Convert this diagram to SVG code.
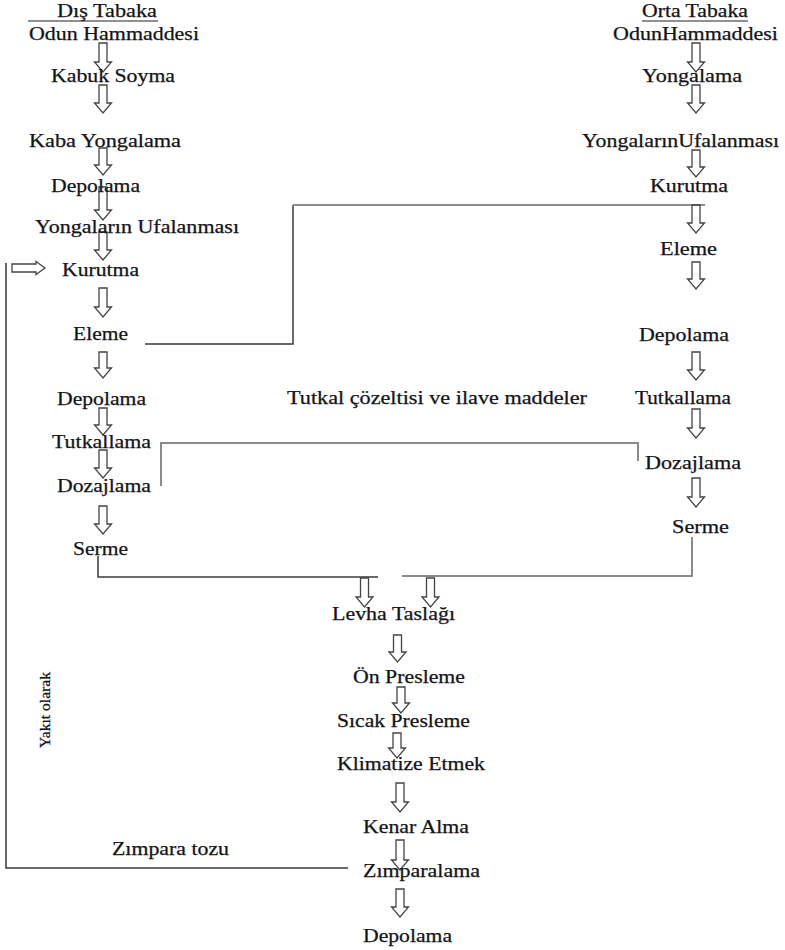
<svg xmlns="http://www.w3.org/2000/svg" width="785" height="950" viewBox="0 0 785 950">
<defs>
<style>
text{font-family:"Liberation Serif","Times New Roman",serif;font-size:18px;fill:#141418;stroke:#141418;stroke-width:0.25}
.a{fill:none;stroke:#444;stroke-width:1.3;stroke-linejoin:miter}
.l{fill:none;stroke:#3a3a3a;stroke-width:1.5}
.g{fill:none;stroke:#8a8a8a;stroke-width:2}
</style>
</defs>
<rect width="785" height="950" fill="#fff"/>
<g id="connectors">
<polyline class="l" points="145,344 293,344 293,205"/>
<polyline class="g" points="293,205 705,205"/>
<polyline class="g" points="161,486 161,443 638,443 638,461"/>
<polyline class="l" points="98,556 98,577 378,577"/>
<polyline class="g" points="692,537 692,576 402,576"/>
<polyline class="l" points="348,868 6,868 6,263"/>
<path class="a" d="M12,264 H36 V261.5 L45,268 L36,274.5 V272 H12 Z"/>
<g id="arrows-left">
<path class="a" d="M99,43 H107 V62 H111.5 L103,72 L94.5,62 H99 Z"/>
<path class="a" d="M99,85 H107 V103 H111.5 L103,113 L94.5,103 H99 Z"/>
<path class="a" d="M99,148 H107 V165 H111.5 L103,175 L94.5,165 H99 Z"/>
<path class="a" d="M99,187 H107 V210 H111.5 L103,220 L94.5,210 H99 Z"/>
<path class="a" d="M99,232 H107 V250 H111.5 L103,260 L94.5,250 H99 Z"/>
<path class="a" d="M99,288 H107 V307 H111.5 L103,317 L94.5,307 H99 Z"/>
<path class="a" d="M99,352 H107 V368 H111.5 L103,378 L94.5,368 H99 Z"/>
<path class="a" d="M99,408 H107 V425 H111.5 L103,435 L94.5,425 H99 Z"/>
<path class="a" d="M99,450 H107 V468 H111.5 L103,478 L94.5,468 H99 Z"/>
<path class="a" d="M99,506 H107 V524 H111.5 L103,534 L94.5,524 H99 Z"/>
</g>
<g id="arrows-right">
<path class="a" d="M692,43 H700 V62 H704.5 L696,72 L687.5,62 H692 Z"/>
<path class="a" d="M692,85 H700 V103 H704.5 L696,113 L687.5,103 H692 Z"/>
<path class="a" d="M692,150 H700 V167 H704.5 L696,177 L687.5,167 H692 Z"/>
<path class="a" d="M692,205 H700 V223 H704.5 L696,233 L687.5,223 H692 Z"/>
<path class="a" d="M692,262 H700 V279 H704.5 L696,289 L687.5,279 H692 Z"/>
<path class="a" d="M692,352 H700 V370 H704.5 L696,380 L687.5,370 H692 Z"/>
<path class="a" d="M692,409 H700 V428 H704.5 L696,438 L687.5,428 H692 Z"/>
<path class="a" d="M692,478 H700 V497 H704.5 L696,507 L687.5,497 H692 Z"/>
</g>
<g id="arrows-center">
<path class="a" d="M360.5,578 H368.5 V597 H373 L364.5,607 L356,597 H360.5 Z"/>
<path class="a" d="M426.5,578 H434.5 V597 H439 L430.5,607 L422,597 H426.5 Z"/>
<path class="a" d="M393.5,635 H401.5 V652 H406 L397.5,662 L389,652 H393.5 Z"/>
<path class="a" d="M397,687 H405 V703 H409.5 L401,713 L392.5,703 H397 Z"/>
<path class="a" d="M393,733 H401 V748 H405.5 L397,758 L388.5,748 H393 Z"/>
<path class="a" d="M396,783 H404 V802 H408.5 L400,812 L391.5,802 H396 Z"/>
<path class="a" d="M396,840 H404 V860 H408.5 L400,870 L391.5,860 H396 Z"/>
<path class="a" d="M396,889 H404 V907 H408.5 L400,917 L391.5,907 H396 Z"/>
</g>
</g>
<g id="header-left"><text x="57" y="17" textLength="100" lengthAdjust="spacingAndGlyphs">Dış Tabaka</text><line x1="28" y1="21" x2="158" y2="21" stroke="#222" stroke-width="1.2"/></g>
<g id="header-right"><text x="642" y="17" textLength="106" lengthAdjust="spacingAndGlyphs">Orta Tabaka</text><line x1="642" y1="21" x2="748" y2="21" stroke="#222" stroke-width="1.2"/></g>
<g id="l1"><text x="29" y="40" textLength="170" lengthAdjust="spacingAndGlyphs">Odun Hammaddesi</text></g>
<g id="l2"><text x="51" y="82" textLength="124" lengthAdjust="spacingAndGlyphs">Kabuk Soyma</text></g>
<g id="l3"><text x="29" y="147" textLength="152" lengthAdjust="spacingAndGlyphs">Kaba Yongalama</text></g>
<g id="l4"><text x="51" y="192" textLength="89" lengthAdjust="spacingAndGlyphs">Depolama</text></g>
<g id="l5"><text x="35" y="233" textLength="204" lengthAdjust="spacingAndGlyphs">Yongaların Ufalanması</text></g>
<g id="l6"><text x="62" y="276" textLength="77" lengthAdjust="spacingAndGlyphs">Kurutma</text></g>
<g id="l7"><text x="73" y="340" textLength="55" lengthAdjust="spacingAndGlyphs">Eleme</text></g>
<g id="l8"><text x="57" y="405" textLength="89" lengthAdjust="spacingAndGlyphs">Depolama</text></g>
<g id="l9"><text x="52" y="448" textLength="99" lengthAdjust="spacingAndGlyphs">Tutkallama</text></g>
<g id="l10"><text x="57" y="492" textLength="94" lengthAdjust="spacingAndGlyphs">Dozajlama</text></g>
<g id="l11"><text x="73" y="555" textLength="55" lengthAdjust="spacingAndGlyphs">Serme</text></g>
<g id="r1"><text x="613" y="40" textLength="165" lengthAdjust="spacingAndGlyphs">OdunHammaddesi</text></g>
<g id="r2"><text x="642" y="82" textLength="100" lengthAdjust="spacingAndGlyphs">Yongalama</text></g>
<g id="r3"><text x="582" y="147" textLength="197" lengthAdjust="spacingAndGlyphs">YongalarınUfalanması</text></g>
<g id="r4"><text x="650" y="192" textLength="78" lengthAdjust="spacingAndGlyphs">Kurutma</text></g>
<g id="r5"><text x="660" y="255" textLength="57" lengthAdjust="spacingAndGlyphs">Eleme</text></g>
<g id="r6"><text x="639" y="341" textLength="90" lengthAdjust="spacingAndGlyphs">Depolama</text></g>
<g id="r7"><text x="635" y="404" textLength="96" lengthAdjust="spacingAndGlyphs">Tutkallama</text></g>
<g id="r8"><text x="645" y="469" textLength="96" lengthAdjust="spacingAndGlyphs">Dozajlama</text></g>
<g id="r9"><text x="672" y="533" textLength="57" lengthAdjust="spacingAndGlyphs">Serme</text></g>
<g id="glue"><text x="287" y="404" textLength="300" lengthAdjust="spacingAndGlyphs">Tutkal çözeltisi ve ilave maddeler</text></g>
<g id="c1"><text x="332" y="620" textLength="123" lengthAdjust="spacingAndGlyphs">Levha Taslağı</text></g>
<g id="c2"><text x="353" y="683" textLength="112" lengthAdjust="spacingAndGlyphs">Ön Presleme</text></g>
<g id="c3"><text x="337" y="727" textLength="133" lengthAdjust="spacingAndGlyphs">Sıcak Presleme</text></g>
<g id="c4"><text x="337" y="770" textLength="148" lengthAdjust="spacingAndGlyphs">Klimatize Etmek</text></g>
<g id="c5"><text x="363" y="833" textLength="106" lengthAdjust="spacingAndGlyphs">Kenar Alma</text></g>
<g id="c6"><text x="363" y="877" textLength="117" lengthAdjust="spacingAndGlyphs">Zımparalama</text></g>
<g id="c7"><text x="363" y="942" textLength="89" lengthAdjust="spacingAndGlyphs">Depolama</text></g>
<g id="dust"><text x="112" y="855" textLength="117" lengthAdjust="spacingAndGlyphs">Zımpara tozu</text></g>
<g id="fuel"><text transform="translate(50,748) rotate(-90)" x="0" y="0" textLength="76" lengthAdjust="spacingAndGlyphs" style="font-size:14px">Yakıt olarak</text></g>
</svg>
